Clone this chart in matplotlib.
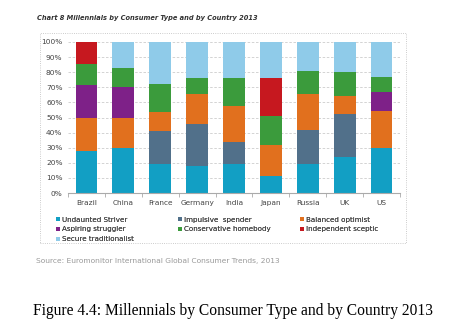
import matplotlib.pyplot as plt
import numpy as np
from matplotlib.patches import Rectangle

countries = ["Brazil", "China", "France", "Germany", "India", "Japan", "Russia", "UK", "US"]
types = ["Undaunted Striver", "Impulsive  spender", "Balanced optimist",
         "Aspiring struggler", "Conservative homebody", "Independent sceptic",
         "Secure traditionalist"]
striver      = [27.5, 30, 19, 18, 19, 11, 19, 24, 30]
impulsive    = [0, 0, 22, 28, 14.5, 0, 22.5, 28.5, 0]
balanced     = [22.5, 20, 12.5, 19.5, 24, 21, 24, 11.5, 24]
aspiring     = [21.5, 20, 0, 0, 0, 0, 0, 0, 13]
conservative = [14, 13, 18.5, 10.5, 18.5, 19, 15.5, 16, 10]
independent  = [14.5, 0, 0, 0, 0, 25, 0, 0, 0]
secure       = [0, 17, 28, 24, 24, 24, 19, 20, 23]

series = [striver, impulsive, balanced, aspiring, conservative, independent, secure]
colors = ["#129fc4", "#51708a", "#e1701e", "#7e2188", "#3b9b3c", "#c6181f", "#8fcbe9"]

fig = plt.figure(figsize=(4.53, 3.29), dpi=100)
ax = fig.add_axes([68 / 453, 1 - 193 / 329, 332 / 453, 151 / 329])

x = np.arange(len(countries))
bottom = np.zeros(len(countries))
handles = []
for vals, col, name in zip(series, colors, types):
    vals = np.array(vals)
    b = ax.bar(x, vals, 0.59, bottom=bottom, color=col, label=name, zorder=2)
    handles.append(b)
    bottom += vals

ax.set_xlim(-0.5, len(countries) - 0.5)
ax.set_ylim(0, 100)
ax.set_yticks(range(0, 101, 10))
ax.set_yticklabels([f"{v}%" for v in range(0, 101, 10)], fontsize=5.3, color="#444444")
ax.set_xticks(x)
ax.set_xticklabels(countries, fontsize=5.3, color="#444444")
ax.tick_params(axis="x", length=0, pad=5)
ax.tick_params(axis="y", length=0, pad=4)
ax.set_xticks(np.arange(-0.5, len(countries), 1), minor=True)
ax.tick_params(axis="x", which="minor", length=3, color="#aaaaaa")
ax.grid(axis="y", linestyle=(0, (3, 2)), color="#cccccc", linewidth=0.6, zorder=0)
for s in ["top", "right", "left"]:
    ax.spines[s].set_visible(False)
ax.spines["bottom"].set_color("#aaaaaa")
ax.spines["bottom"].set_linewidth(0.8)

# legend: three columns, filled row by row
col_x = [52, 174, 296]
for c in range(3):
    idx = list(range(c, len(types), 3))
    leg = fig.legend(handles=[handles[i] for i in idx], loc="upper left",
                     bbox_to_anchor=(col_x[c] / 453, 1 - 213 / 329),
                     fontsize=5.1, frameon=False, handlelength=0.6, handleheight=0.6,
                     handletextpad=0.3, labelspacing=0.55, borderpad=0)
    for t in leg.get_texts():
        t.set_color("#444444")
    fig.add_artist(leg)

# dashed frame around chart
fig.patches.append(Rectangle((40 / 453, 1 - 243 / 329), 366 / 453, 210 / 329,
                             transform=fig.transFigure, fill=False,
                             edgecolor="#bbbbbb", linestyle=":", linewidth=0.6))

fig.text(37 / 453, 1 - 18 / 329, "Chart 8 Millennials by Consumer Type and by Country 2013",
         fontsize=4.8, fontweight="bold", fontstyle="italic", color="#333333", va="center")
fig.text(36 / 453, 1 - 261 / 329, "Source: Euromonitor International Global Consumer Trends, 2013",
         fontsize=5.4, color="#999999", va="center")
fig.text(33 / 453, 1 - 311 / 329, "Figure 4.4: Millennials by Consumer Type and by Country 2013",
         fontsize=11.2, family="Liberation Serif", color="black", va="center")

fig.savefig("out.png", dpi=100)
